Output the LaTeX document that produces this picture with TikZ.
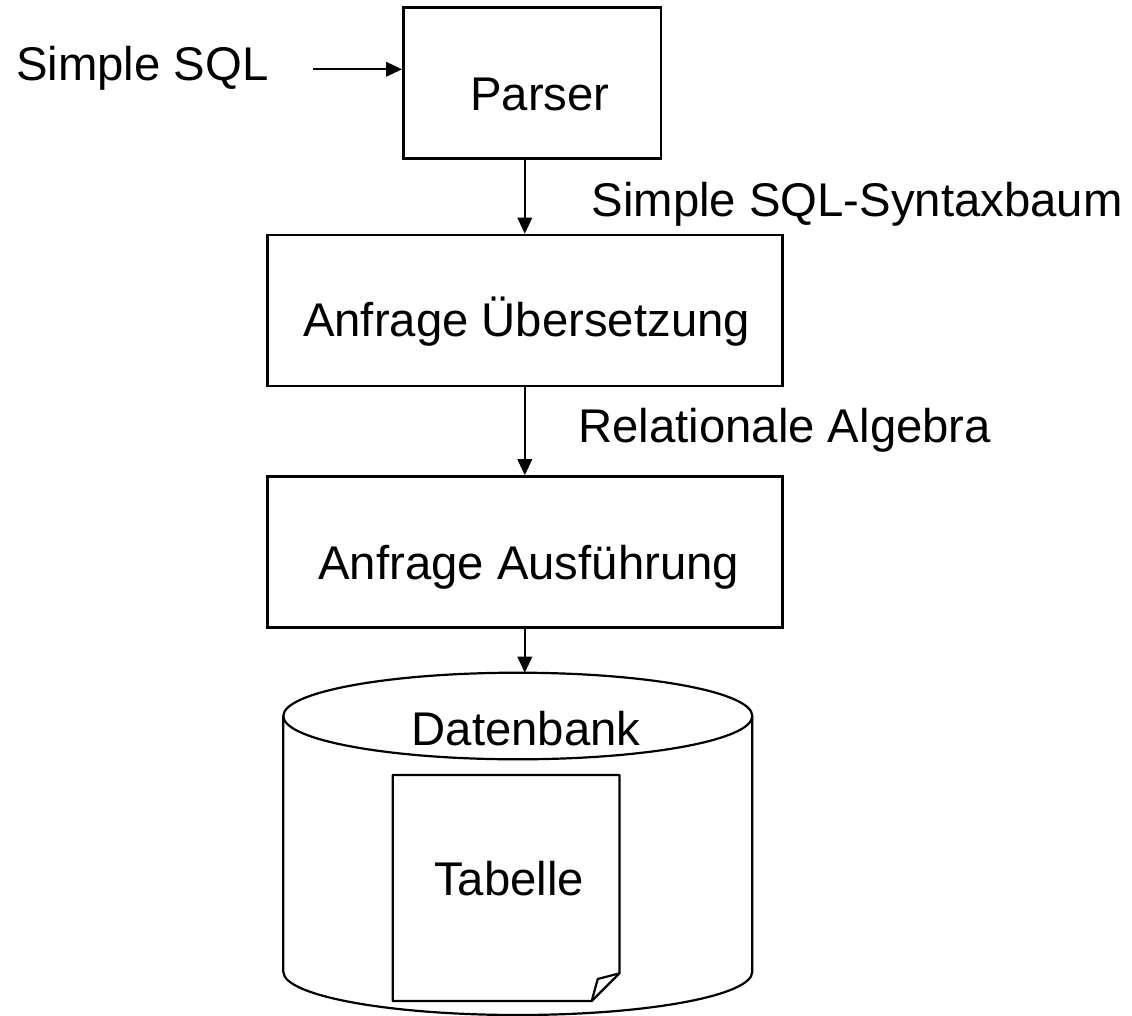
\documentclass[tikz,border=0pt]{standalone}
\usepackage{fontspec}
\setmainfont{Liberation Sans}
\usetikzlibrary{arrows.meta}
\tikzset{
  procbox/.style={draw, line width=2.6pt, inner sep=0pt, minimum height=151pt},
  lbl/.style={anchor=base, inner sep=0pt, font=\fontsize{47.3}{56}\selectfont},
  flow/.style={line width=2pt, -{Triangle[length=16pt,width=14.5pt]}},
  thinline/.style={line width=2.2pt, line join=round}
}
\begin{document}
\begin{tikzpicture}[x=1pt,y=1pt]
\useasboundingbox (0,0) rectangle (1132,-1015);

% process boxes
\node[procbox, minimum width=257.7pt, minimum height=151.4pt] (parser) at (532.2,-83) {};
\node[procbox, minimum width=515pt] (ueb) at (524.8,-310.5) {};
\node[procbox, minimum width=515pt] (ausf) at (524.8,-552) {};

% box texts
\node[lbl] (parsertxt) at (540,-110) {Parser};
\node[lbl] (uebtxt) at (526.5,-336.7) {Anfrage Übersetzung};
\node[lbl] (ausftxt) at (528.7,-579) {Anfrage Ausführung};

% side labels
\node[lbl] (sqltxt) at (142.2,-80) {Simple SQL};
\node[lbl] (syntxt) at (857.2,-216) {Simple SQL-Syntaxbaum};
\node[lbl] (reltxt) at (784.7,-442.7) {Relationale Algebra};

% database cylinder
\draw[thinline, fill=white] (517.8,-716) ellipse [x radius=234.5, y radius=43.3];
\draw[thinline] (283.3,-716) -- (283.3,-971.7)
   arc[start angle=180, end angle=360, x radius=234.5, y radius=43.3] -- (752.3,-716);
\coordinate (dbtop) at (517.8,-672.7);
\node[lbl] (dbtxt) at (526,-745) {Datenbank};

% table document with folded corner
\draw[thinline, fill=white] (392.7,-775) -- (619.5,-775) -- (619.5,-973.3)
   -- (591.7,-1001) -- (392.7,-1001) -- cycle;
\draw[thinline] (619.5,-973.3) -- (597.7,-979) -- (591.7,-1001);
\node[lbl] (tabtxt) at (509.2,-895) {Tabelle};

% connectors
\coordinate (sqlin) at (313,-69.3);
\draw[flow] (sqlin) -- (sqlin -| parser.west);
\draw[flow] (parser.south -| ueb.north) -- (ueb.north);
\draw[flow] (ueb.south) -- (ausf.north);
\draw[flow] (ausf.south) -- (ausf.south |- dbtop);
\end{tikzpicture}
\end{document}
